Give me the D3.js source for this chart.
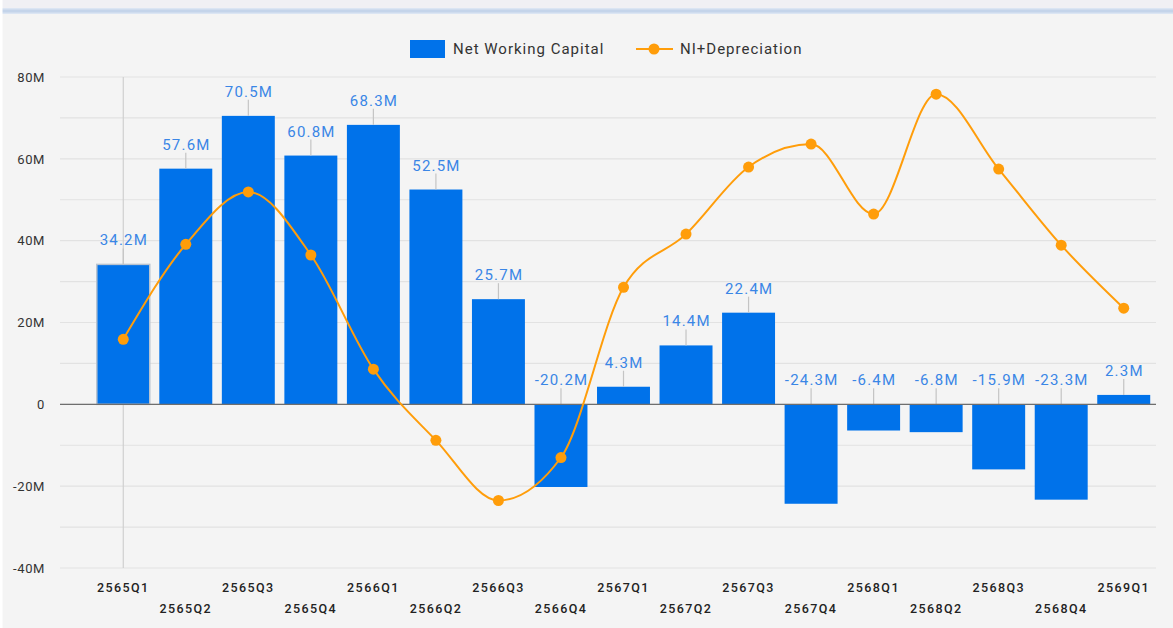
<!DOCTYPE html>
<html>
<head>
<meta charset="utf-8">
<script src="https://cdn.jsdelivr.net/npm/d3@7"></script>
<style>
  html, body { margin: 0; padding: 0; background: #f4f4f4; }
  svg { display: block; font-family: Roboto, "Noto Sans", sans-serif; }
</style>
</head>
<body>
<div id="vis"></div>
<script>
// quarters (Thai Buddhist years)
const quarters = ["2565Q1", "2565Q2", "2565Q3", "2565Q4", "2566Q1", "2566Q2", "2566Q3", "2566Q4",
    "2567Q1", "2567Q2", "2567Q3", "2567Q4", "2568Q1", "2568Q2", "2568Q3", "2568Q4", "2569Q1"];
// millions
const netWorkingCapital = [34.2, 57.6, 70.5, 60.8, 68.3, 52.5, 25.7, -20.2,
    4.3, 14.4, 22.4, -24.3, -6.4, -6.8, -15.9, -23.3, 2.3];
const niDepreciation = [15.9, 39.1, 51.9, 36.5, 8.6, -8.8, -23.5, -13.0,
    28.6, 41.6, 58.0, 63.6, 46.5, 75.8, 57.5, 38.9, 23.5];
const yTicks = [-40, -20, 0, 20, 40, 60, 80];
const yGrid = [-40, -30, -20, -10, 0, 10, 20, 30, 40, 50, 60, 70, 80];
const seriesNames = ["Net Working Capital", "NI+Depreciation"];

const width = 1173;
const height = 628;
const barColor = "#0072ea";
const labelColor = "#3a86e6";
const orange = "#ff9d0a";

const svg = d3.select("#vis").append("svg")
    .attr("width", width)
    .attr("height", height);

// background + top strip
svg.append("rect").attr("width", width).attr("height", height).attr("fill", "#f4f4f4");
svg.append("rect").attr("width", width).attr("height", 8).attr("fill", "#f0f0f4");
svg.append("rect").attr("y", 8).attr("width", width).attr("height", 6).attr("fill", "#dbe5f3");
svg.append("rect").attr("y", 9.5).attr("width", width).attr("height", 3).attr("fill", "#c4d4ea");
svg.append("rect").attr("width", 2.5).attr("height", height).attr("fill", "#ffffff");

const x = d3.scaleBand()
    .domain(quarters)
    .range([92, 1155])
    .paddingInner(0.153)
    .paddingOuter(0.0765);

const y = d3.scaleLinear()
    .domain([-40, 80])
    .range([568, 77]);

const plotLeft = 60, plotRight = 1156;

// gridlines
svg.append("g")
    .selectAll("line")
    .data(yGrid)
    .join("line")
    .attr("x1", plotLeft)
    .attr("x2", plotRight)
    .attr("y1", d => y(d))
    .attr("y2", d => y(d))
    .attr("stroke", "#e2e2e2")
    .attr("stroke-width", 1.2);

// y axis labels
const yAxis = d3.axisLeft(y)
    .tickValues(yTicks)
    .tickSize(0)
    .tickPadding(0)
    .tickFormat(d => d === 0 ? "0" : d + "M");

svg.append("g")
    .attr("transform", `translate(45,0)`)
    .call(yAxis)
    .call(g => g.select(".domain").remove())
    .call(g => g.selectAll("text")
        .attr("font-size", 13)
        .attr("font-family", "Roboto, sans-serif")
        .attr("fill", "#333")
        .attr("letter-spacing", "0.6px"));

// x axis labels (staggered)
const xAxis = d3.axisBottom(x).tickSize(0).tickPadding(0);
svg.append("g")
    .attr("transform", `translate(0,583)`)
    .call(xAxis)
    .call(g => g.select(".domain").remove())
    .call(g => g.selectAll("text")
        .attr("font-size", 12.5)
        .attr("font-weight", 500)
        .attr("font-family", "Roboto, sans-serif")
        .attr("fill", "#222")
        .attr("letter-spacing", "1.4px")
        .attr("dy", (d, i) => i % 2 === 0 ? "0.71em" : "2.4em"));

// hover crosshair on the first category
svg.append("line")
    .attr("x1", x(quarters[0]) + x.bandwidth() / 2)
    .attr("x2", x(quarters[0]) + x.bandwidth() / 2)
    .attr("y1", y(80))
    .attr("y2", y(-40))
    .attr("stroke", "#cfcfcf")
    .attr("stroke-width", 1.2);

// bars
svg.append("g")
    .selectAll("rect")
    .data(netWorkingCapital)
    .join("rect")
    .attr("x", (d, i) => x(quarters[i]))
    .attr("width", x.bandwidth())
    .attr("y", d => y(Math.max(0, d)))
    .attr("height", d => Math.abs(y(d) - y(0)))
    .attr("fill", barColor)
    .attr("stroke", (d, i) => i === 0 ? "#b9c3cf" : "none")
    .attr("stroke-width", 1.5);

// leader lines and value labels
const labelTop = d => Math.min(y(d), y(0));

svg.append("g")
    .selectAll("line")
    .data(netWorkingCapital)
    .join("line")
    .attr("x1", (d, i) => x(quarters[i]) + x.bandwidth() / 2)
    .attr("x2", (d, i) => x(quarters[i]) + x.bandwidth() / 2)
    .attr("y1", d => labelTop(d) - 16)
    .attr("y2", d => labelTop(d))
    .attr("stroke", "#c4c4c4")
    .attr("stroke-width", 1.2);

svg.append("g")
    .selectAll("text")
    .data(netWorkingCapital)
    .join("text")
    .attr("x", (d, i) => x(quarters[i]) + x.bandwidth() / 2 + 0.6)
    .attr("y", d => labelTop(d) - 19)
    .attr("text-anchor", "middle")
    .attr("font-size", 15)
    .attr("letter-spacing", "1.2px")
    .attr("fill", labelColor)
    .text(d => d + "M");

// zero line
svg.append("line")
    .attr("x1", plotLeft)
    .attr("x2", plotRight)
    .attr("y1", y(0))
    .attr("y2", y(0))
    .attr("stroke", "#6e6e6e")
    .attr("stroke-width", 1.3);

// NI + Depreciation line
const line = d3.line()
    .x((d, i) => x(quarters[i]) + x.bandwidth() / 2)
    .y(d => y(d))
    .curve(d3.curveMonotoneX);

svg.append("path")
    .datum(niDepreciation)
    .attr("fill", "none")
    .attr("stroke", orange)
    .attr("stroke-width", 2)
    .attr("d", line);

svg.append("g")
    .selectAll("circle")
    .data(niDepreciation)
    .join("circle")
    .attr("cx", (d, i) => x(quarters[i]) + x.bandwidth() / 2)
    .attr("cy", d => y(d))
    .attr("r", 5.5)
    .attr("fill", orange);

// legend
const legend = svg.append("g").attr("font-size", 15).attr("fill", "#333")
    .attr("letter-spacing", "1px");
legend.append("rect")
    .attr("x", 410).attr("y", 40).attr("width", 35).attr("height", 18)
    .attr("fill", barColor);
legend.append("text")
    .attr("x", 453).attr("y", 49).attr("dy", "0.35em")
    .text(seriesNames[0]);
legend.append("line")
    .attr("x1", 636).attr("x2", 673).attr("y1", 49).attr("y2", 49)
    .attr("stroke", orange).attr("stroke-width", 2);
legend.append("circle")
    .attr("cx", 654).attr("cy", 49).attr("r", 5.5)
    .attr("fill", orange);
legend.append("text")
    .attr("x", 680).attr("y", 49).attr("dy", "0.35em")
    .text(seriesNames[1]);
</script>
</body>
</html>
